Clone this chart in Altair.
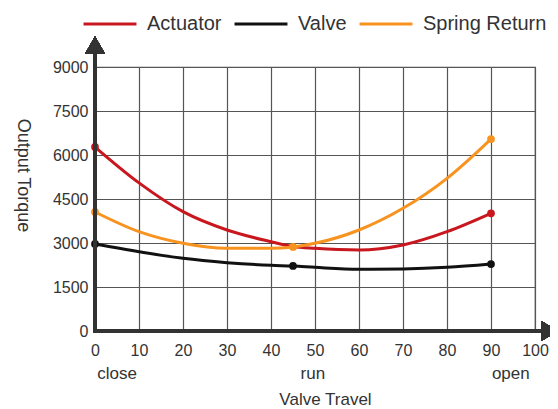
import altair as alt
import pandas as pd

# ---- data ----
travel = [0, 10, 20, 30, 40, 45, 50, 60, 70, 80, 90]
actuator = [6273, 5050, 4068, 3443, 3045, 2880, 2818, 2761, 2932, 3386, 4011]
valve = [2966, 2705, 2477, 2330, 2239, 2216, 2170, 2102, 2114, 2170, 2284]
spring = [4057, 3386, 2989, 2818, 2818, 2864, 2989, 3443, 4182, 5205, 6545]

actuator_marks = [0, 90]
valve_marks = [0, 45, 90]
spring_marks = [0, 45, 90]

series_names = ["Actuator", "Valve", "Spring Return"]
series_colors = ["#c8171e", "#111111", "#f7931e"]

x_ticks = [0, 10, 20, 30, 40, 50, 60, 70, 80, 90, 100]
y_ticks = [0, 1500, 3000, 4500, 6000, 7500, 9000]

stage_labels = ["close", "run", "open"]
stage_pos = [5, 49.5, 94.5]

rows = []
for name, vals, marks in [("Actuator", actuator, actuator_marks),
                          ("Valve", valve, valve_marks),
                          ("Spring Return", spring, spring_marks)]:
    for t, v in zip(travel, vals):
        rows.append({"series": name, "travel": t, "torque": v, "mark": t in marks})
df = pd.DataFrame(rows)
stages = pd.DataFrame({"label": stage_labels, "pos": stage_pos})

W, H = 440, 264
AX = "#333333"

xscale = alt.Scale(domain=[0, 100], nice=False)
yscale = alt.Scale(domain=[0, 9000], nice=False)
color = alt.Color(
    "series:N",
    scale=alt.Scale(domain=series_names, range=series_colors),
    legend=alt.Legend(
        title=None, orient="none", direction="horizontal",
        legendX=-13, legendY=-71,
        symbolType="stroke", symbolSize=2800, symbolStrokeWidth=3,
        labelFontSize=20, labelColor=AX, labelOffset=9, columnPadding=6,
    ),
)

x_enc = alt.X(
    "travel:Q", scale=xscale,
    axis=alt.Axis(values=x_ticks, title="Valve Travel", domain=False, ticks=False,
                  grid=True, gridColor="#555555", gridWidth=1.2, format="d",
                  labelFlush=False,
                  labelFontSize=16, labelColor=AX, labelPadding=11,
                  titleFontSize=17, titleFontWeight="normal", titleColor=AX,
                  titleX=230, titleY=68, titleBaseline="middle"),
)
y_enc = alt.Y(
    "torque:Q", scale=yscale,
    axis=alt.Axis(values=y_ticks, title="Output Torque", domain=False, ticks=False,
                  grid=True, gridColor="#555555", gridWidth=1.2, format="d",
                  labelFlush=False,
                  labelFontSize=16, labelColor=AX, labelPadding=7,
                  titleFontSize=18, titleFontWeight="normal", titleColor=AX,
                  titleAngle=90, titleX=-73, titleY=108,
                  titleBaseline="middle", titleAlign="center"),
)

lines = alt.Chart(df).mark_line(strokeWidth=3, interpolate="monotone").encode(
    x=x_enc, y=y_enc, color=color, detail="series:N")

points = alt.Chart(df).transform_filter("datum.mark").mark_point(
    filled=True, size=60, opacity=1).encode(
    x=alt.X("travel:Q", scale=xscale), y=alt.Y("torque:Q", scale=yscale),
    color=alt.Color("series:N", scale=alt.Scale(domain=series_names, range=series_colors), legend=None))

yaxis_line = alt.Chart(df).mark_rule(color=AX, strokeWidth=3).encode(
    x=alt.value(0), y=alt.value(-16), y2=alt.value(H + 1.5))
xaxis_line = alt.Chart(df).mark_rule(color=AX, strokeWidth=3).encode(
    x=alt.value(-1.5), x2=alt.value(455), y=alt.value(H))
up_arrow = alt.Chart(df).mark_point(shape="triangle-up", filled=True, color=AX,
                                    size=380, opacity=1).encode(
    x=alt.value(0), y=alt.value(-22))
right_arrow = alt.Chart(df).mark_point(shape="triangle-right", filled=True, color=AX,
                                       size=380, opacity=1).encode(
    x=alt.value(455), y=alt.value(H))

stage_text = alt.Chart(stages).mark_text(fontSize=17, color=AX, baseline="middle").encode(
    x=alt.X("pos:Q", scale=xscale), y=alt.value(307), text="label:N")

chart = alt.layer(lines, points, yaxis_line, xaxis_line, up_arrow, right_arrow, stage_text).properties(
    width=W, height=H,
    autosize=alt.AutoSizeParams(type="none"),
    padding={"left": 87, "top": 59, "right": 15, "bottom": 78},
).configure(font="Liberation Sans").configure_view(stroke="#555555", strokeWidth=1.2)

chart.save("out.html", embed_options={"renderer": "svg", "actions": False})
